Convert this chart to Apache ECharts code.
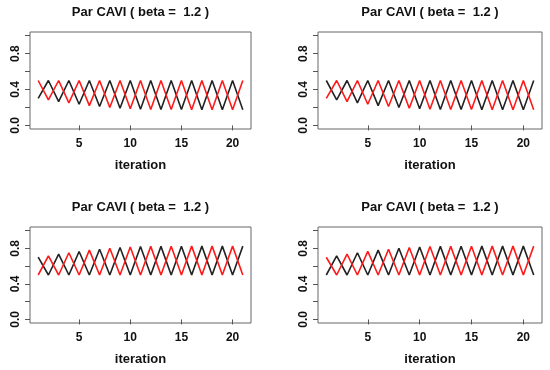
<!DOCTYPE html>
<html><head><meta charset="utf-8">
<script src="https://cdn.jsdelivr.net/npm/echarts@6/dist/echarts.min.js"></script>
<style>html,body{margin:0;padding:0;background:#fff}#c{width:550px;height:370px}</style>
</head><body><div id="c"></div>
<script>
var titleText = 'Par CAVI ( beta =  1.2 )';
var xName = 'iteration';
var iterations = [1,2,3,4,5,6,7,8,9,10,11,12,13,14,15,16,17,18,19,20,21];
var xTicks = [5,10,15,20];
var yTicks = [0,0.2,0.4,0.6,0.8,1.0];
var yLabels = [0,0.4,0.8];

// panel 1 (top-left)
var p1Black = [0.30,0.50,0.265,0.50,0.235,0.50,0.21,0.50,0.19,0.50,0.18,0.50,0.178,0.50,0.176,0.50,0.175,0.50,0.175,0.50,0.175];
var p1Red   = [0.50,0.285,0.50,0.25,0.50,0.22,0.50,0.20,0.50,0.185,0.50,0.178,0.50,0.176,0.50,0.175,0.50,0.175,0.50,0.175,0.50];
// panel 2 (top-right)
var p2Black = [0.50,0.285,0.50,0.25,0.50,0.22,0.50,0.20,0.50,0.185,0.50,0.178,0.50,0.176,0.50,0.175,0.50,0.175,0.50,0.175,0.50];
var p2Red   = [0.30,0.50,0.265,0.50,0.235,0.50,0.21,0.50,0.19,0.50,0.18,0.50,0.178,0.50,0.176,0.50,0.175,0.50,0.175,0.50,0.175];
// panel 3 (bottom-left)
var p3Black = [0.70,0.50,0.735,0.50,0.765,0.50,0.79,0.50,0.81,0.50,0.82,0.50,0.822,0.50,0.824,0.50,0.825,0.50,0.825,0.50,0.825];
var p3Red   = [0.50,0.715,0.50,0.75,0.50,0.78,0.50,0.80,0.50,0.815,0.50,0.822,0.50,0.824,0.50,0.825,0.50,0.825,0.50,0.825,0.50];
// panel 4 (bottom-right)
var p4Black = [0.50,0.715,0.50,0.75,0.50,0.78,0.50,0.80,0.50,0.815,0.50,0.822,0.50,0.824,0.50,0.825,0.50,0.825,0.50,0.825,0.50];
var p4Red   = [0.70,0.50,0.735,0.50,0.765,0.50,0.79,0.50,0.81,0.50,0.82,0.50,0.822,0.50,0.824,0.50,0.825,0.50,0.825,0.50,0.825];

var panels = [[p1Black,p1Red],[p2Black,p2Red],[p3Black,p3Red],[p4Black,p4Red]];
var boxes = [
  {left:30, top:32, width:221, height:97},
  {left:318, top:32, width:224, height:97},
  {left:30, top:227, width:221, height:96},
  {left:318, top:227, width:224, height:96}
];
var FONT = 'Liberation Sans, Arial, sans-serif';
function pairs(ys){ return iterations.map(function(x,i){return [x, ys[i]];}); }

var grids=[], xAxes=[], yAxes=[], series=[], graphics=[];
boxes.forEach(function(b,i){
  grids.push({left:b.left, top:b.top, width:b.width, height:b.height, show:true,
    borderColor:'#666', borderWidth:1, backgroundColor:'transparent', containLabel:false});
  xAxes.push({type:'value', gridIndex:i, min:0.2, max:21.8,
    name:xName, nameLocation:'middle', nameGap:30,
    nameTextStyle:{fontFamily:FONT, fontWeight:'bold', fontSize:13, color:'#111'},
    axisLine:{show:false}, splitLine:{show:false},
    axisTick:{show:true, length:5, lineStyle:{color:'#555'}, customValues:xTicks},
    axisLabel:{show:true, margin:9, fontFamily:FONT, fontWeight:'bold', fontSize:12, color:'#111', customValues:xTicks}
  });
  yAxes.push({type:'value', gridIndex:i, min:-0.04, max:1.04,
    axisLine:{show:false}, splitLine:{show:false},
    axisTick:{show:true, length:5, lineStyle:{color:'#555'}, customValues:yTicks},
    axisLabel:{show:true, rotate:90, margin:8, fontFamily:FONT, fontWeight:'bold', fontSize:12, color:'#111',
      customValues:yLabels, formatter:function(v){return v.toFixed(1);}}
  });
  series.push({type:'line', xAxisIndex:i, yAxisIndex:i, data:pairs(panels[i][0]), symbol:'none',
    lineStyle:{color:'#222', width:1.6}, silent:true, animation:false});
  series.push({type:'line', xAxisIndex:i, yAxisIndex:i, data:pairs(panels[i][1]), symbol:'none',
    lineStyle:{color:'#ff1a1a', width:1.6}, silent:true, animation:false});
  graphics.push({type:'text', x:b.left+b.width/2, y:b.top-20,
    style:{text:titleText, fill:'#111', font:'bold 13px '+FONT, textAlign:'center', textVerticalAlign:'middle'}});
});

var chart = echarts.init(document.getElementById('c'), null, {renderer:'canvas'});
chart.setOption({animation:false, grid:grids, xAxis:xAxes, yAxis:yAxes, series:series, graphic:graphics});
</script></body></html>
